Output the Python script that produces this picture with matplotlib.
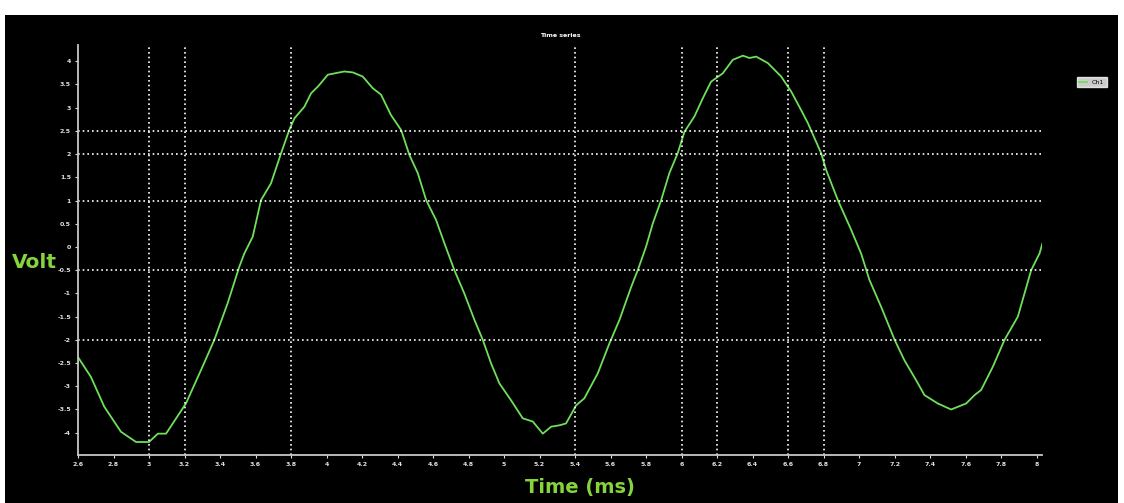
import matplotlib.pyplot as plt
import numpy as np

# time (ms) and voltage
t = [2.598, 2.673, 2.748, 2.842, 2.927, 3.0, 3.05, 3.096, 3.208, 3.293, 3.368, 3.443,
     3.509, 3.537, 3.584, 3.631, 3.687, 3.744, 3.79, 3.819, 3.875, 3.913, 3.955, 4.007,
     4.10, 4.148, 4.204, 4.26, 4.307, 4.363, 4.42, 4.467, 4.514, 4.561, 4.617, 4.664,
     4.72, 4.776, 4.833, 4.88, 4.927, 4.974, 5.039, 5.105, 5.162, 5.218, 5.265, 5.312,
     5.349, 5.406, 5.452, 5.528, 5.593, 5.65, 5.716, 5.753, 5.80, 5.838, 5.885, 5.931,
     5.978, 6.016, 6.072, 6.119, 6.166, 6.232, 6.288, 6.345, 6.382, 6.42, 6.486, 6.561,
     6.617, 6.673, 6.711, 6.786, 6.814, 6.88, 6.955, 7.011, 7.058, 7.124, 7.20, 7.255,
     7.321, 7.368, 7.443, 7.518, 7.603, 7.65, 7.687, 7.753, 7.819, 7.894, 7.969, 8.016,
     8.035]
volt = [-2.36, -2.80, -3.44, -3.98, -4.20, -4.20, -4.02, -4.02, -3.37, -2.65, -2.0, -1.21,
        -0.42, -0.14, 0.22, 1.01, 1.37, 2.02, 2.52, 2.77, 3.02, 3.31, 3.47, 3.71,
        3.78, 3.76, 3.67, 3.42, 3.28, 2.84, 2.52, 1.98, 1.59, 1.01, 0.58, 0.08,
        -0.50, -1.0, -1.57, -2.0, -2.51, -2.94, -3.30, -3.69, -3.76, -4.02, -3.87, -3.84,
        -3.80, -3.41, -3.26, -2.72, -2.08, -1.57, -0.86, -0.50, 0.01, 0.51, 1.01, 1.59,
        2.02, 2.48, 2.81, 3.20, 3.56, 3.74, 4.03, 4.12, 4.07, 4.10, 3.96, 3.67,
        3.35, 2.95, 2.67, 2.02, 1.66, 1.01, 0.37, -0.14, -0.71, -1.29, -2.0, -2.44,
        -2.87, -3.19, -3.37, -3.50, -3.37, -3.19, -3.08, -2.58, -2.0, -1.50, -0.50, -0.14,
        0.11]

# cursor lines
cursor_t = [3.0, 3.2, 3.8, 5.4, 6.0, 6.2, 6.6, 6.8]
cursor_v = [2.5, 2.0, 1.0, -0.5, -2.0]

x_ticks = np.arange(2.6, 8.01, 0.2)
y_ticks = np.arange(-4, 4.01, 0.5)

fig = plt.figure(figsize=(11.24, 5.03), dpi=100, facecolor='white')

# black screen behind the plot
bg = fig.add_axes([5 / 1124, 0, 1113 / 1124, 488 / 503])
bg.set_facecolor('black')
bg.set_xticks([])
bg.set_yticks([])
for s in bg.spines.values():
    s.set_visible(False)

ax = fig.add_axes([78 / 1124, 48 / 503, (1042 - 78) / 1124, (455 - 45) / 503])
ax.set_facecolor('black')
ax.plot(t, volt, color='#6ee05a', lw=1.3, label='Ch1')

for c in cursor_t:
    ax.axvline(c, color='white', lw=1.2, ls=(0, (1, 1.8)))
for c in cursor_v:
    ax.axhline(c, color='white', lw=1.2, ls=(0, (1, 1.8)))

ax.set_xlim(2.6, 8.03)
ax.set_ylim(-4.48, 4.35)
ax.set_xticks(x_ticks)
ax.set_xticklabels(['%g' % round(v, 1) for v in x_ticks])
ax.set_yticks(y_ticks)
ax.set_yticklabels(['%g' % v for v in y_ticks])
ax.tick_params(colors='#e0e0e0', labelsize=4.5, length=2, width=0.8, pad=3)
for lbl in ax.get_xticklabels() + ax.get_yticklabels():
    lbl.set_fontweight('bold')
for side in ['top', 'right']:
    ax.spines[side].set_visible(False)
for side in ['left', 'bottom']:
    ax.spines[side].set_color('#c8c8c8')
    ax.spines[side].set_linewidth(1.3)

ax.set_title('Time series', color='white', fontsize=4.5, pad=6, fontweight='bold')

leg = ax.legend(loc='upper left', bbox_to_anchor=(1.033, 0.93), fontsize=4.5,
                frameon=True, facecolor='white', edgecolor='white',
                handlelength=1.2, borderpad=0.4, fancybox=False)
for txt in leg.get_texts():
    txt.set_color('black')

fig.text(12 / 1124, 1 - 262 / 503, 'Volt', color='#86d43c', fontsize=14.5,
         fontweight='bold', va='center', ha='left')
fig.text(580 / 1124, 1 - 488 / 503, 'Time (ms)', color='#86d43c', fontsize=14,
         fontweight='bold', va='center', ha='center')

fig.savefig('out.png', dpi=100, facecolor=fig.get_facecolor())
